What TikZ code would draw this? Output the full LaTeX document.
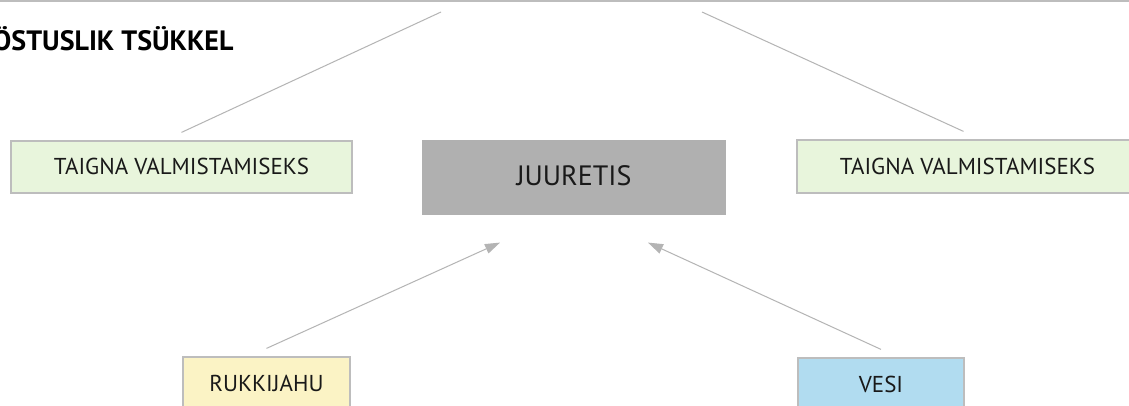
\documentclass[tikz,border=0pt]{standalone}
\usepackage{fontspec}
\setmainfont{PT Sans}
\usetikzlibrary{arrows.meta}
\definecolor{linegray}{HTML}{B4B4B4}
\definecolor{boxgray}{HTML}{BDBDBD}
\definecolor{greenfill}{HTML}{E8F5DC}
\definecolor{centerfill}{HTML}{B0B0B0}
\definecolor{yellowfill}{HTML}{FBF3C5}
\definecolor{bluefill}{HTML}{B1DCF0}
\begin{document}
\begin{tikzpicture}[x=1pt,y=-1pt,
  box/.style={draw=boxgray, line width=1.2pt, inner sep=0pt, font=\fontsize{23}{27}\selectfont, text=black!90},
  conn/.style={draw=linegray, line width=1pt},
  arr/.style={conn, -{Triangle[length=15pt,width=10pt]}, color=linegray}]
\useasboundingbox (0,0) rectangle (1129,406);
\fill[white] (0,0) rectangle (1129,406);
\draw[draw=boxgray, line width=1.6pt] (0,1) -- (1129,1);
\node[anchor=base east, font=\bfseries\fontsize{28}{32}\selectfont] (title) at (237,50.5) {ÖSTUSLIK TSÜKKEL};
\node[box, fill=greenfill, minimum width=341, minimum height=52] (tl) at (181.5,167) {\raisebox{1pt}{TAIGNA VALMISTAMISEKS}};
\node[box, fill=greenfill, minimum width=341, minimum height=53] (tr) at (967.5,166.5) {\raisebox{1pt}{TAIGNA VALMISTAMISEKS}};
\node[box, draw=none, fill=centerfill, minimum width=304, minimum height=75, font=\fontsize{28}{32}\selectfont] (jr) at (574,177.5) {\raisebox{3pt}{JUURETIS}};
\node[box, fill=yellowfill, minimum width=167, minimum height=52] (rk) at (266.5,383) {RUKKIJAHU};
\node[box, fill=bluefill, minimum width=166, minimum height=52] (ve) at (881,384) {VESI};
\coordinate (t1) at (441,12);
\coordinate (t2) at (702,12);
\draw[conn] (t1) -- ([yshift=8pt]tl.north);
\draw[conn] (t2) -- ([xshift=-4pt,yshift=8pt]tr.north);
\draw[arr] ([yshift=8pt]rk.north) -- ([xshift=-74pt,yshift=-27pt]jr.south);
\draw[arr] ([yshift=8pt]ve.north) -- ([xshift=74pt,yshift=-27pt]jr.south);
\end{tikzpicture}
\end{document}
